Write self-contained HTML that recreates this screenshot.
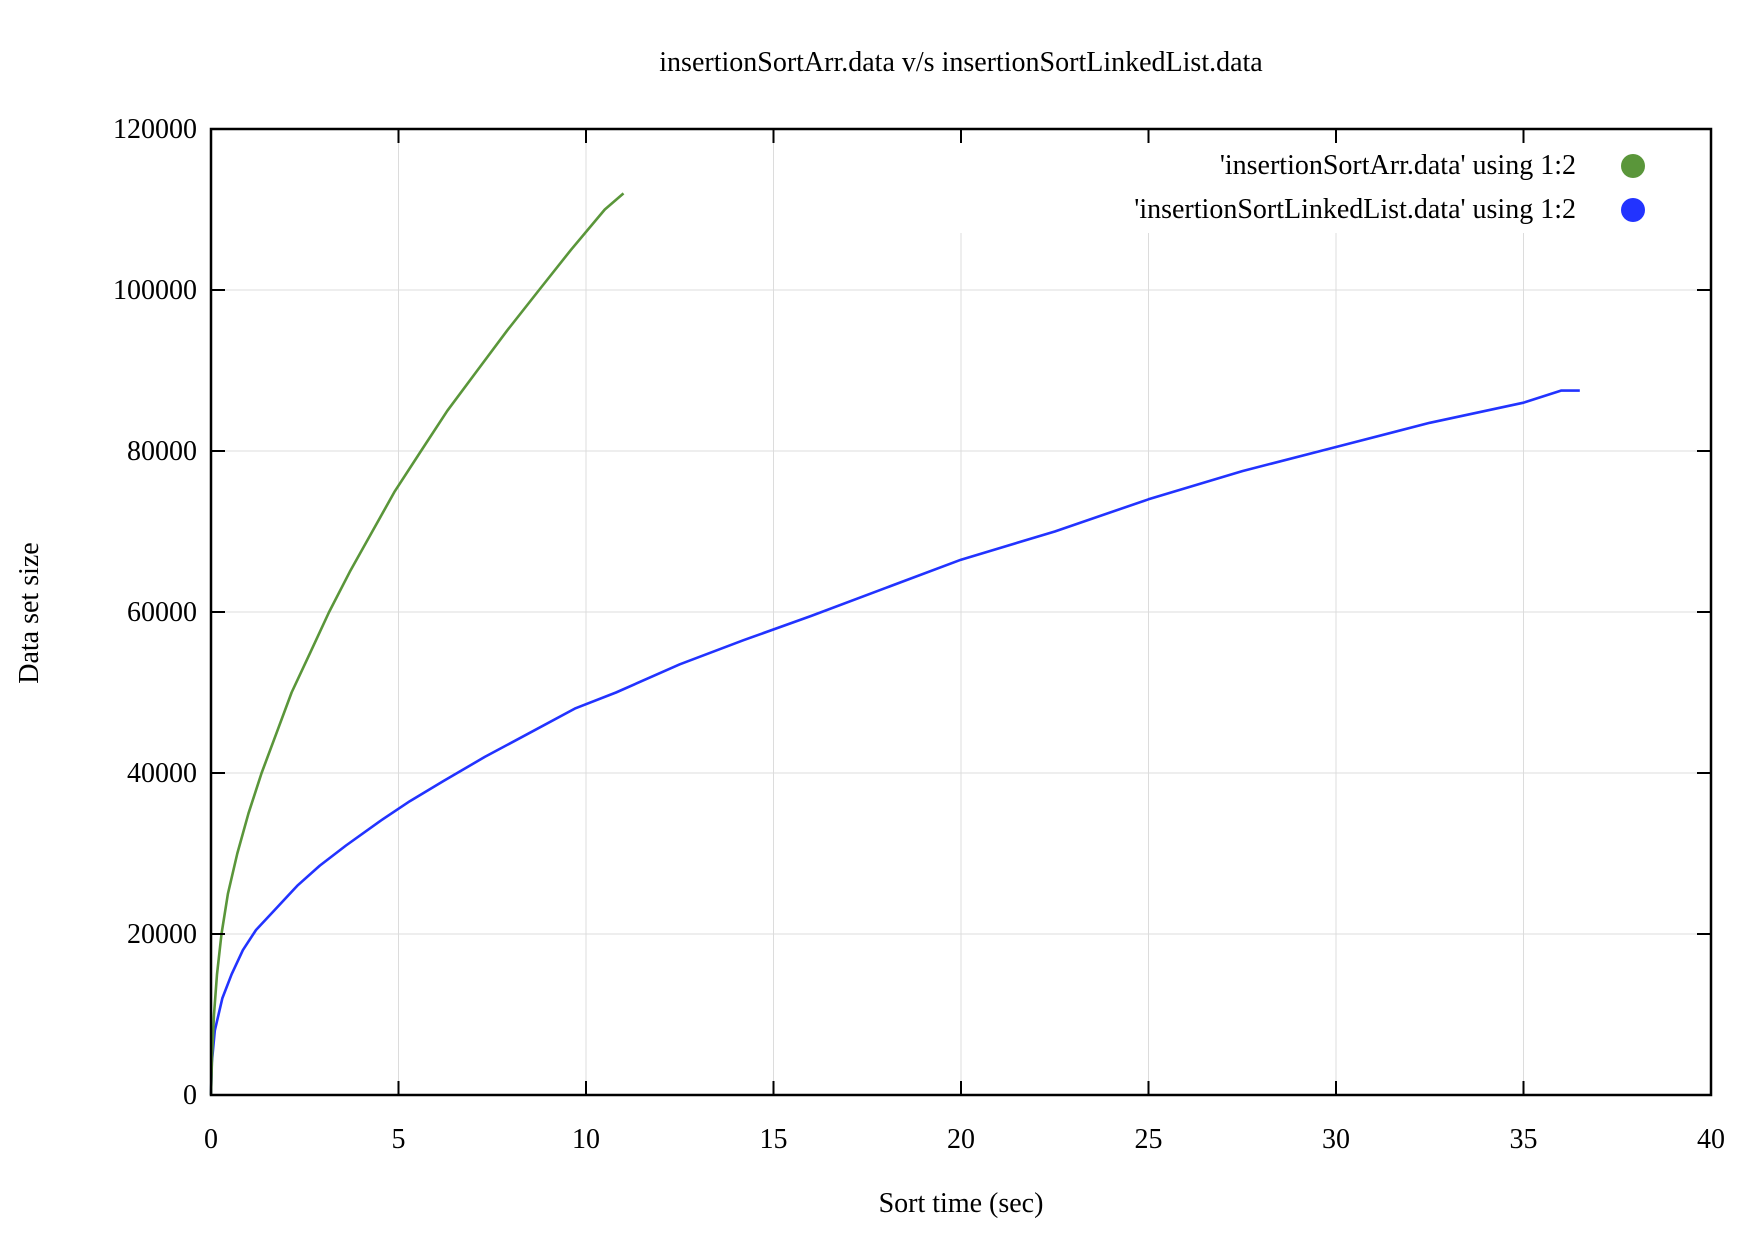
<!DOCTYPE html>
<html><head><meta charset="utf-8"><style>
body{margin:0;background:#fff}
svg{display:block;font-family:"Liberation Serif",serif}
</style></head><body>
<svg id="chart" width="1762" height="1237">
<rect width="1762" height="1237" fill="#fff"/>
<g id="grid"></g>
<g id="series"></g>
<rect x="211" y="129" width="1500" height="966" fill="none" stroke="#000" stroke-width="2.5"/>
<g id="ticks"></g>
<text x="961" y="71" font-size="28" text-anchor="middle">insertionSortArr.data v/s insertionSortLinkedList.data</text>
<text x="961" y="1212" font-size="28" text-anchor="middle">Sort time (sec)</text>
<text transform="translate(38,613) rotate(-90)" font-size="28" text-anchor="middle">Data set size</text>
<g>
<text x="1576" y="174" font-size="28" text-anchor="end">'insertionSortArr.data' using 1:2</text>
<circle cx="1633" cy="166" r="12" fill="#5a963a"/>
<text x="1576" y="218" font-size="28" text-anchor="end">'insertionSortLinkedList.data' using 1:2</text>
<circle cx="1633" cy="210" r="12" fill="#2233ff"/>
</g>
</svg>
<script>
const xTicks=[0,5,10,15,20,25,30,35,40];
const yTicks=[0,20000,40000,60000,80000,100000,120000];
const arrTime=[0,0.03,0.08,0.16,0.28,0.45,0.7,1.0,1.35,1.75,2.15,2.65,3.15,3.7,4.3,4.9,5.6,6.3,7.1,7.9,8.75,9.6,10.5,11.0];
const arrSize=[0,5000,10000,15000,20000,25000,30000,35000,40000,45000,50000,55000,60000,65000,70000,75000,80000,85000,90000,95000,100000,105000,110000,112000];
const llTime=[0,0.02,0.1,0.3,0.55,0.85,1.2,1.7,2.3,2.9,3.6,4.5,5.3,6.2,7.3,8.5,9.7,10.8,12.5,14.2,16,18,20,22.5,25,27.5,30,32.5,35,36,36.5];
const llSize=[0,4000,8000,12000,15000,18000,20500,23000,26000,28500,31000,34000,36500,39000,42000,45000,48000,50000,53500,56500,59500,63000,66500,70000,74000,77500,80500,83500,86000,87500,87500];
const NS='http://www.w3.org/2000/svg';
const X0=211,X1=1711,Y0=1095,Y1=129;
const sx=v=>X0+(v-0)/(40-0)*(X1-X0);
const sy=v=>Y0-(v-0)/(120000-0)*(Y0-Y1);
const grid=document.getElementById('grid'),ticks=document.getElementById('ticks'),series=document.getElementById('series');
function mk(tag,attrs){const e=document.createElementNS(NS,tag);for(const k in attrs)e.setAttribute(k,attrs[k]);return e;}
xTicks.forEach(v=>{
  const x=sx(v);
  if(v>0&&v<40){
    const top=v>=20?233:Y1;
    const g=mk('line',{x1:x,x2:x,y1:top,y2:Y0,stroke:'#dcdcdc','stroke-width':1});
    
    
    grid.appendChild(g);
    const t1=mk('line',{x1:x,x2:x,y1:Y0,y2:Y0-14,stroke:'#000','stroke-width':2});
    
    
    ticks.appendChild(t1);
    const t2=mk('line',{x1:x,x2:x,y1:Y1,y2:Y1+14,stroke:'#000','stroke-width':2});
    
    
    ticks.appendChild(t2);
  }
  const l=mk('text',{x:x,y:1148,'font-size':28,'text-anchor':'middle'});
  l.textContent=v;
  
  
  ticks.appendChild(l);
});
yTicks.forEach(v=>{
  const y=sy(v);
  if(v>0&&v<120000){
    const g=mk('line',{x1:X0,x2:X1,y1:y,y2:y,stroke:'#dcdcdc','stroke-width':1});
    
    
    grid.appendChild(g);
    const t1=mk('line',{x1:X0,x2:X0+14,y1:y,y2:y,stroke:'#000','stroke-width':2});
    
    
    ticks.appendChild(t1);
    const t2=mk('line',{x1:X1,x2:X1-14,y1:y,y2:y,stroke:'#000','stroke-width':2});
    
    
    ticks.appendChild(t2);
  }
  const l=mk('text',{x:197,y:y+9,'font-size':28,'text-anchor':'end'});
  l.textContent=v;
  
  
  ticks.appendChild(l);
});
function drawSeries(xs,ys,color,name){
  const d=xs.map((t,i)=>(i?'L':'M')+sx(t).toFixed(1)+','+sy(ys[i]).toFixed(1)).join(' ');
  const p=mk('path',{d:d,fill:'none',stroke:color,'stroke-width':2.6,'stroke-linejoin':'round'});
  
  
  series.appendChild(p);
}
drawSeries(llTime,llSize,'#2233ff','series-linkedlist');
drawSeries(arrTime,arrSize,'#5a963a','series-arr');
</script>
</body></html>
